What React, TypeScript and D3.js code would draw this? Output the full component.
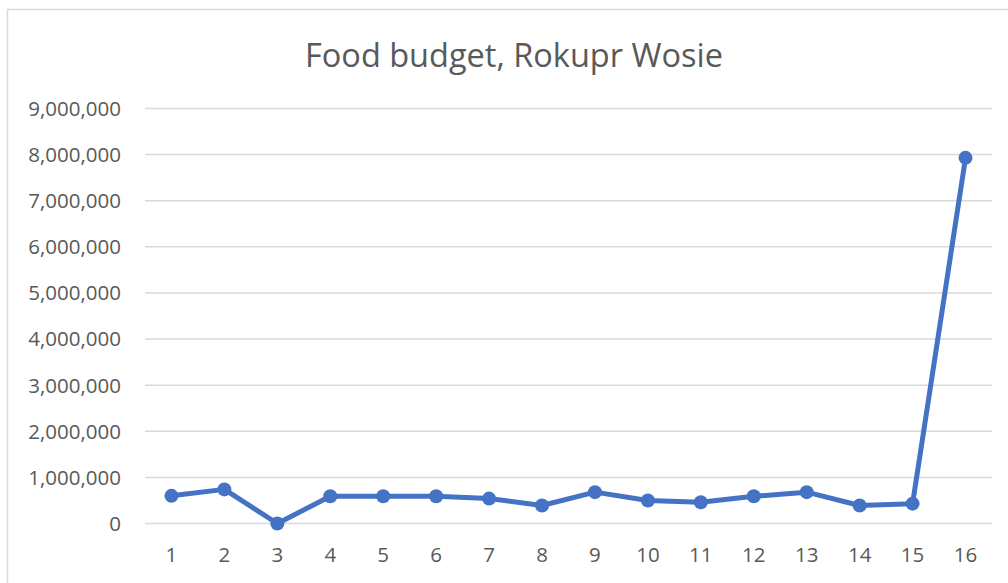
import React from "react";
import * as d3 from "d3";

const categories = ["1","2","3","4","5","6","7","8","9","10","11","12","13","14","15","16"];
const values = [600000, 740000, 0, 590000, 590000, 590000, 540000, 390000, 680000, 500000, 460000, 590000, 680000, 390000, 430000, 7930000];
const yTicks = [0, 1000000, 2000000, 3000000, 4000000, 5000000, 6000000, 7000000, 8000000, 9000000];
const title = "Food budget, Rokupr Wosie";

const W = 1008, H = 583;
const plot = { left: 145, right: 992, top: 108.5, bottom: 523.5 };
const FONT = "'Open Sans', 'DejaVu Sans', sans-serif";
const TEXT = "#595959";
const GRID = "#D9D9D9";
const BLUE = "#4472C4";

export default function App() {
  const x = d3.scaleBand<string>().domain(categories).range([plot.left, plot.right]);
  const y = d3.scaleLinear().domain([0, 9000000]).range([plot.bottom, plot.top]);
  const fmt = d3.format(",");
  const cx = (c: string) => (x(c) as number) + x.bandwidth() / 2;
  const line = d3.line<number>().x((_, i) => cx(categories[i])).y((v) => y(v));

  return (
    <svg width={W} height={H} style={{ position: "absolute", left: 0, top: 0, background: "#fff" }}>
      <rect x={0} y={0} width={W} height={H} fill="#fff" />
      <line x1={7} y1={9.5} x2={W} y2={9.5} stroke={GRID} strokeWidth={1.5} />
      <line x1={7.5} y1={9} x2={7.5} y2={H} stroke={GRID} strokeWidth={1.5} />
      <text x={514} y={67} textAnchor="middle" fontFamily={FONT} fontSize={32.5} fill={TEXT}>{title}</text>
      {yTicks.map((t) => (
        <g key={t}>
          <line x1={plot.left} x2={plot.right} y1={y(t)} y2={y(t)} stroke={GRID} strokeWidth={1.5} />
          <text x={121} y={y(t)} dy="0.36em" textAnchor="end" fontFamily={FONT} fontSize={20.5} fill={TEXT}>{fmt(t)}</text>
        </g>
      ))}
      {categories.map((c) => (
        <text key={c} x={cx(c)} y={562} textAnchor="middle" fontFamily={FONT} fontSize={20.5} fill={TEXT}>{c}</text>
      ))}
      <path d={line(values) || ""} fill="none" stroke={BLUE} strokeWidth={5} strokeLinejoin="round" strokeLinecap="round" />
      {values.map((v, i) => (
        <circle key={i} cx={cx(categories[i])} cy={y(v)} r={7} fill={BLUE} />
      ))}
    </svg>
  );
}
